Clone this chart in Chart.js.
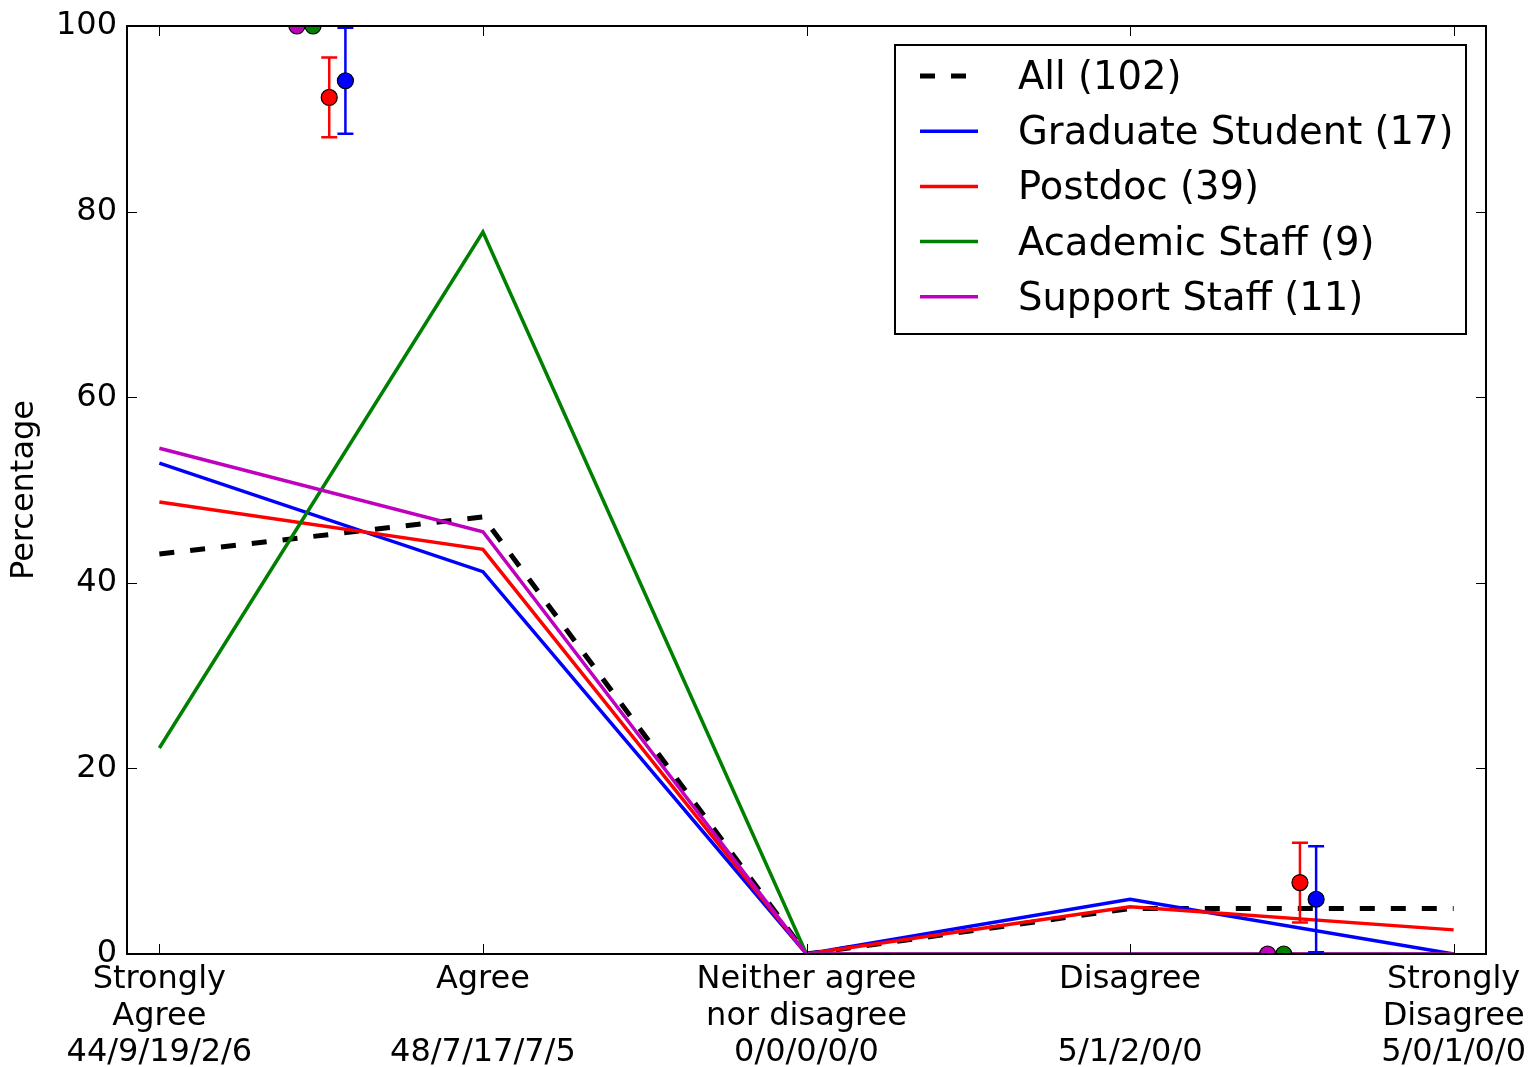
<!DOCTYPE html>
<html><head><meta charset="utf-8">
<script src="https://cdn.jsdelivr.net/npm/chart.js@4/dist/chart.umd.min.js"></script>
<style>html,body{margin:0;padding:0;background:#fff;overflow:hidden}</style>
</head><body>
<canvas id="c" width="1539" height="1067"></canvas>
<script>
// ---------- data ----------
const categoryLabels = [
  ["Strongly", "Agree", "44/9/19/2/6"],
  ["Agree", "", "48/7/17/7/5"],
  ["Neither agree", "nor disagree", "0/0/0/0/0"],
  ["Disagree", "", "5/1/2/0/0"],
  ["Strongly", "Disagree", "5/0/1/0/0"]
];
const categoryPos = [0, 1, 2, 3, 4];
const seriesNames = ["All (102)", "Graduate Student (17)", "Postdoc (39)", "Academic Staff (9)", "Support Staff (11)"];
const allPct      = [43.1, 47.1, 0, 4.9, 4.9];
const gradPct     = [52.9, 41.2, 0, 5.9, 0];
const postdocPct  = [48.7, 43.6, 0, 5.1, 2.6];
const academicPct = [22.2, 77.8, 0, 0, 0];
const supportPct  = [54.5, 45.5, 0, 0, 0];

// combined agree / disagree summary points (Support, Academic, Postdoc, Graduate)
const agreeX     = [0.425, 0.475, 0.525, 0.575];
const agreeY     = [100, 100, 92.3, 94.1];
const agreeLo    = [100, 100, 88.0, 88.4];
const agreeHi    = [100, 100, 96.6, 99.8];
const disagreeX  = [3.425, 3.475, 3.525, 3.575];
const disagreeY  = [0, 0, 7.7, 5.9];
const disagreeLo = [0, 0, 3.4, 0.2];
const disagreeHi = [0, 0, 12.0, 11.6];
const yTicks = [0, 20, 40, 60, 80, 100];

// ---------- styles ----------
const seriesColors = ["#000000", "#0000ff", "#ff0000", "#008000", "#bf00bf"];
const pointColors = ["#bf00bf", "#008000", "#ff0000", "#0000ff"];
const FONT = "DejaVu Sans";
Chart.defaults.font.family = FONT;
Chart.defaults.color = "#000";

const seriesData = [allPct, gradPct, postdocPct, academicPct, supportPct];
const lineDatasets = seriesData.map((arr, i) => ({
  type: 'line',
  label: seriesNames[i],
  data: categoryPos.map((x, j) => ({x: x, y: arr[j]})),
  borderColor: seriesColors[i],
  backgroundColor: seriesColors[i],
  borderWidth: i === 0 ? 5 : 3.5,
  borderDash: i === 0 ? [15, 16] : [],
  pointRadius: 0,
  tension: 0,
  fill: false,
  order: 10 - i
}));

function pts(xs, ys) { return xs.map((x, i) => ({x: x, y: ys[i]})); }
const scatterDatasets = [
  {type: 'scatter', label: 'agree', data: pts(agreeX, agreeY), lo: agreeLo, hi: agreeHi},
  {type: 'scatter', label: 'disagree', data: pts(disagreeX, disagreeY), lo: disagreeLo, hi: disagreeHi}
].map(d => Object.assign(d, {
  pointRadius: 8, pointHoverRadius: 8, pointBackgroundColor: pointColors,
  pointBorderColor: '#000', pointBorderWidth: 1.2, showLine: false, clip: 0, order: 0, isSummary: true
}));

const errorBarPlugin = {
  id: 'errorBars',
  beforeDatasetDraw(chart, args) {
    const ds = chart.data.datasets[args.index];
    if (!ds.isSummary) return;
    const xs = chart.scales.x, ys = chart.scales.y, a = chart.chartArea;
    const ctx = chart.ctx;
    ctx.save();
    ctx.beginPath(); ctx.rect(a.left, a.top, a.right - a.left, a.bottom - a.top); ctx.clip();
    ctx.lineWidth = 2.5;
    ds.data.forEach((p, i) => {
      if (ds.hi[i] === ds.lo[i]) return;
      const px = xs.getPixelForValue(p.x);
      const y1 = ys.getPixelForValue(ds.lo[i]), y2 = ys.getPixelForValue(ds.hi[i]);
      ctx.strokeStyle = pointColors[i];
      ctx.beginPath();
      ctx.moveTo(px, y1); ctx.lineTo(px, y2);
      ctx.moveTo(px - 8, y1); ctx.lineTo(px + 8, y1);
      ctx.moveTo(px - 8, y2); ctx.lineTo(px + 8, y2);
      ctx.stroke();
    });
    ctx.restore();
  }
};

const framePlugin = {
  id: 'frame',
  afterDatasetsDraw(chart) {
    const a = chart.chartArea, ctx = chart.ctx, xs = chart.scales.x, ys = chart.scales.y;
    ctx.save();
    ctx.strokeStyle = '#000';
    ctx.lineWidth = 1;
    ctx.beginPath();
    yTicks.forEach(v => {
      const py = Math.round(ys.getPixelForValue(v)) + 0.5;
      ctx.moveTo(a.left, py); ctx.lineTo(a.left + 10, py);
      ctx.moveTo(a.right, py); ctx.lineTo(a.right - 10, py);
    });
    categoryPos.forEach(v => {
      const px = Math.round(xs.getPixelForValue(v)) + 0.5;
      ctx.moveTo(px, a.bottom); ctx.lineTo(px, a.bottom - 10);
      ctx.moveTo(px, a.top); ctx.lineTo(px, a.top + 10);
    });
    ctx.stroke();
    ctx.lineWidth = 2;
    ctx.strokeRect(a.left, a.top, a.right - a.left, a.bottom - a.top);
    ctx.restore();
  },
  afterDraw(chart) {
    // legend box
    const ctx = chart.ctx;
    ctx.save();
    const bx = 895, by = 45, bw = 571, bh = 289;
    ctx.fillStyle = '#fff';
    ctx.fillRect(bx, by, bw, bh);
    ctx.strokeStyle = '#000'; ctx.lineWidth = 2;
    ctx.strokeRect(bx, by, bw, bh);
    const rowY = 76, rowStep = 55.2;
    lineDatasets.forEach((ds, i) => {
      const y = rowY + i * rowStep;
      ctx.strokeStyle = ds.borderColor;
      ctx.lineWidth = ds.borderWidth;
      ctx.setLineDash(ds.borderDash);
      ctx.beginPath(); ctx.moveTo(920, y); ctx.lineTo(978, y); ctx.stroke();
      ctx.setLineDash([]);
      ctx.fillStyle = '#000';
      ctx.font = '38.5px "' + FONT + '"';
      ctx.textBaseline = 'middle';
      ctx.textAlign = 'left';
      ctx.fillText(ds.label, 1018, y + 3);
    });
    ctx.restore();
  }
};

new Chart(document.getElementById('c'), {
  data: {datasets: [...lineDatasets, ...scatterDatasets]},
  options: {
    responsive: false,
    animation: false,
    devicePixelRatio: 1,
    layout: {padding: {left: 0, top: 26, right: 53, bottom: 0}},
    plugins: {legend: {display: false}, tooltip: {enabled: false}},
    events: [],
    scales: {
      x: {
        type: 'linear', min: -0.1, max: 4.1,
        grid: {display: false, drawTicks: false},
        border: {display: false},
        afterBuildTicks(scale) { scale.ticks = categoryPos.map(v => ({value: v})); },
        afterFit(scale) { scale.height = 113; scale.paddingLeft = 0; scale.paddingRight = 0; },
        ticks: {
          autoSkip: false, maxRotation: 0, minRotation: 0, padding: 8,
          font: {size: 32, lineHeight: 1.13}, color: '#000',
          callback(v) { const i = categoryPos.indexOf(v); return i >= 0 ? categoryLabels[i] : ''; }
        }
      },
      y: {
        type: 'linear', min: 0, max: 100,
        grid: {display: false, drawTicks: false},
        border: {display: false},
        afterBuildTicks(scale) { scale.ticks = yTicks.map(v => ({value: v})); },
        afterFit(scale) { scale.width = 127; scale.paddingTop = 0; scale.paddingBottom = 0; },
        ticks: {padding: 10, font: {size: 32}, color: '#000'},
        title: {display: true, text: 'Percentage', font: {size: 32}, color: '#000', padding: {top: 5, bottom: 0}}
      }
    }
  },
  plugins: [errorBarPlugin, framePlugin]
});
</script>
</body></html>
